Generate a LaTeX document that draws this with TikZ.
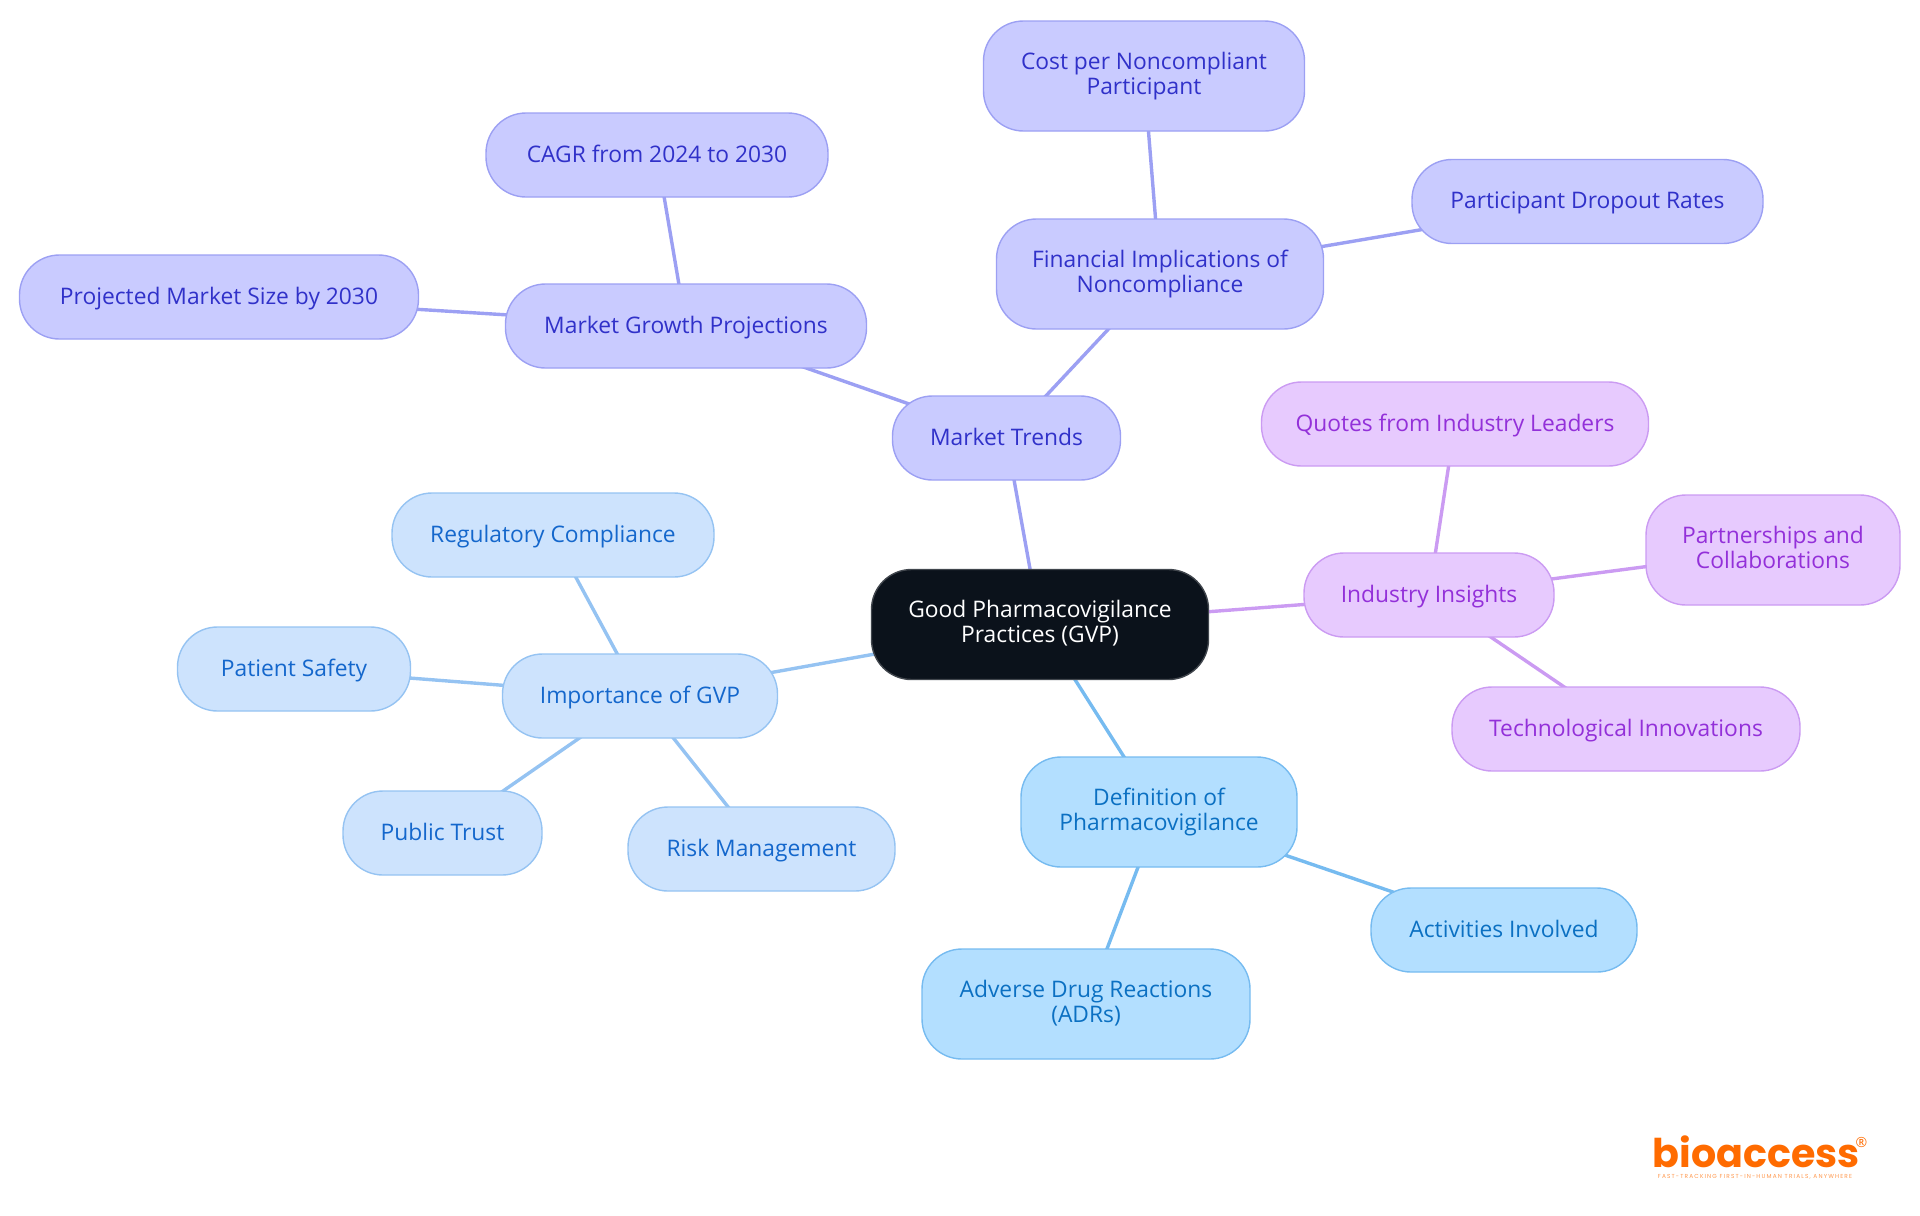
\documentclass[tikz,border=0pt]{standalone}
\usepackage{fontspec}
\setmainfont{Open Sans}
\newfontfamily\logofont{Poppins}
\newfontfamily\tagfont[LetterSpace=20]{Poppins}
\usetikzlibrary{backgrounds}

\definecolor{rootfill}{HTML}{0B121B}
\definecolor{rootline}{HTML}{41464D}
\definecolor{trendfill}{HTML}{C9CBFF}
\definecolor{trendline}{HTML}{9CA0F3}
\definecolor{trendtext}{HTML}{3031C9}
\definecolor{insightfill}{HTML}{E7CAFE}
\definecolor{insightline}{HTML}{CB9BF2}
\definecolor{insighttext}{HTML}{9330D9}
\definecolor{gvpfill}{HTML}{CDE3FD}
\definecolor{gvpline}{HTML}{95C3F2}
\definecolor{gvptext}{HTML}{1467CC}
\definecolor{deffill}{HTML}{B3DFFF}
\definecolor{defline}{HTML}{76BBF0}
\definecolor{deftext}{HTML}{0B70C2}
\definecolor{logoorange}{HTML}{FF6B00}

\tikzset{
  pill/.style={rectangle, rounded corners=20pt, align=center, line width=0.7pt,
    minimum height=42pt, inner sep=0pt, font=\fontsize{11.4pt}{12.5pt}\selectfont,
    text height=10pt, text depth=3pt},
  tall/.style={minimum height=55pt, text height=20pt, text depth=2pt},
  root/.style={pill, fill=rootfill, draw=rootline, text=white},
  trend/.style={pill, fill=trendfill, draw=trendline, text=trendtext},
  insight/.style={pill, fill=insightfill, draw=insightline, text=insighttext},
  gvp/.style={pill, fill=gvpfill, draw=gvpline, text=gvptext},
  defn/.style={pill, fill=deffill, draw=defline, text=deftext},
  link/.style={line width=1.7pt}
}

\begin{document}
\begin{tikzpicture}[x=0.5pt, y=-0.5pt]
\useasboundingbox (0,0) rectangle (1920,1215);
% centre
\node[root, tall, minimum width=168.5pt] (GVP) at (1040,624.5) {Good Pharmacovigilance\\Practices (GVP)};
% market trends
\node[trend, minimum width=114pt] (Trends) at (1006.5,438) {Market Trends};
\node[trend, minimum width=180.5pt] (Growth) at (686,326) {Market Growth Projections};
\node[trend, minimum width=171pt] (CAGR) at (657,155) {CAGR from 2024 to 2030};
\node[trend, minimum width=199.5pt] (Size) at (219,297) {Projected Market Size by 2030};
\node[trend, tall, minimum width=163.5pt] (Finance) at (1160,274) {Financial Implications of\\Noncompliance};
\node[trend, tall, minimum width=160.5pt] (Cost) at (1144,76) {Cost per Noncompliant\\Participant};
\node[trend, minimum width=175.5pt] (Dropout) at (1587.5,201.5) {Participant Dropout Rates};
% industry insights
\node[insight, minimum width=125pt] (Insights) at (1429,595) {Industry Insights};
\node[insight, minimum width=193.5pt] (Quotes) at (1455,424) {Quotes from Industry Leaders};
\node[insight, tall, minimum width=127pt] (Partners) at (1773,550) {Partnerships and\\Collaborations};
\node[insight, minimum width=174pt] (Tech) at (1626,729) {Technological Innovations};
% definition
\node[defn, tall, minimum width=138pt] (Definition) at (1159,812) {Definition of\\Pharmacovigilance};
\node[defn, minimum width=133pt] (Activities) at (1504,930) {Activities Involved};
\node[defn, tall, minimum width=164pt] (ADR) at (1086,1004) {Adverse Drug Reactions\\(ADRs)};
% importance
\node[gvp, minimum width=137.5pt] (Importance) at (640,696) {Importance of GVP};
\node[gvp, minimum width=161pt] (Compliance) at (553,535) {Regulatory Compliance};
\node[gvp, minimum width=116.5pt] (Safety) at (294,669) {Patient Safety};
\node[gvp, minimum width=99.5pt] (Public) at (442.5,833) {Public Trust};
\node[gvp, minimum width=133.5pt] (Risk) at (761.5,849) {Risk Management};
% links
\begin{scope}[on background layer]
\draw[link, trendline] (GVP.center) -- (Trends.center);
\draw[link, trendline] (Trends.center) -- (Growth.center);
\draw[link, trendline] (Trends.center) -- (Finance.center);
\draw[link, trendline] (Growth.center) -- (CAGR.center);
\draw[link, trendline] (Growth.center) -- (Size.center);
\draw[link, trendline] (Finance.center) -- (Cost.center);
\draw[link, trendline] (Finance.center) -- (Dropout.center);
\draw[link, insightline] (GVP.center) -- (Insights.center);
\draw[link, insightline] (Insights.center) -- (Quotes.center);
\draw[link, insightline] (Insights.center) -- (Partners.center);
\draw[link, insightline] (Insights.center) -- (Tech.center);
\draw[link, defline] (GVP.center) -- (Definition.center);
\draw[link, defline] (Definition.center) -- (Activities.center);
\draw[link, defline] (Definition.center) -- (ADR.center);
\draw[link, gvpline] (GVP.center) -- (Importance.center);
\draw[link, gvpline] (Importance.center) -- (Compliance.center);
\draw[link, gvpline] (Importance.center) -- (Safety.center);
\draw[link, gvpline] (Importance.center) -- (Public.center);
\draw[link, gvpline] (Importance.center) -- (Risk.center);
\end{scope}
% logo
\node[text=logoorange, inner sep=0pt, font=\logofont\bfseries\fontsize{19.8pt}{20pt}\selectfont] (Logo) at (1756,1152) {bioaccess};
\node[text=logoorange, inner sep=0pt, font=\fontsize{7pt}{7pt}\selectfont] (Reg) at (1861.5,1142) {®};
\node[text=logoorange!70, inner sep=0pt, font=\tagfont\fontsize{2.9pt}{3pt}\selectfont] (Tag) at (1755,1177) {FAST-TRACKING FIRST-IN-HUMAN TRIALS, ANYWHERE};
\end{tikzpicture}
\end{document}
